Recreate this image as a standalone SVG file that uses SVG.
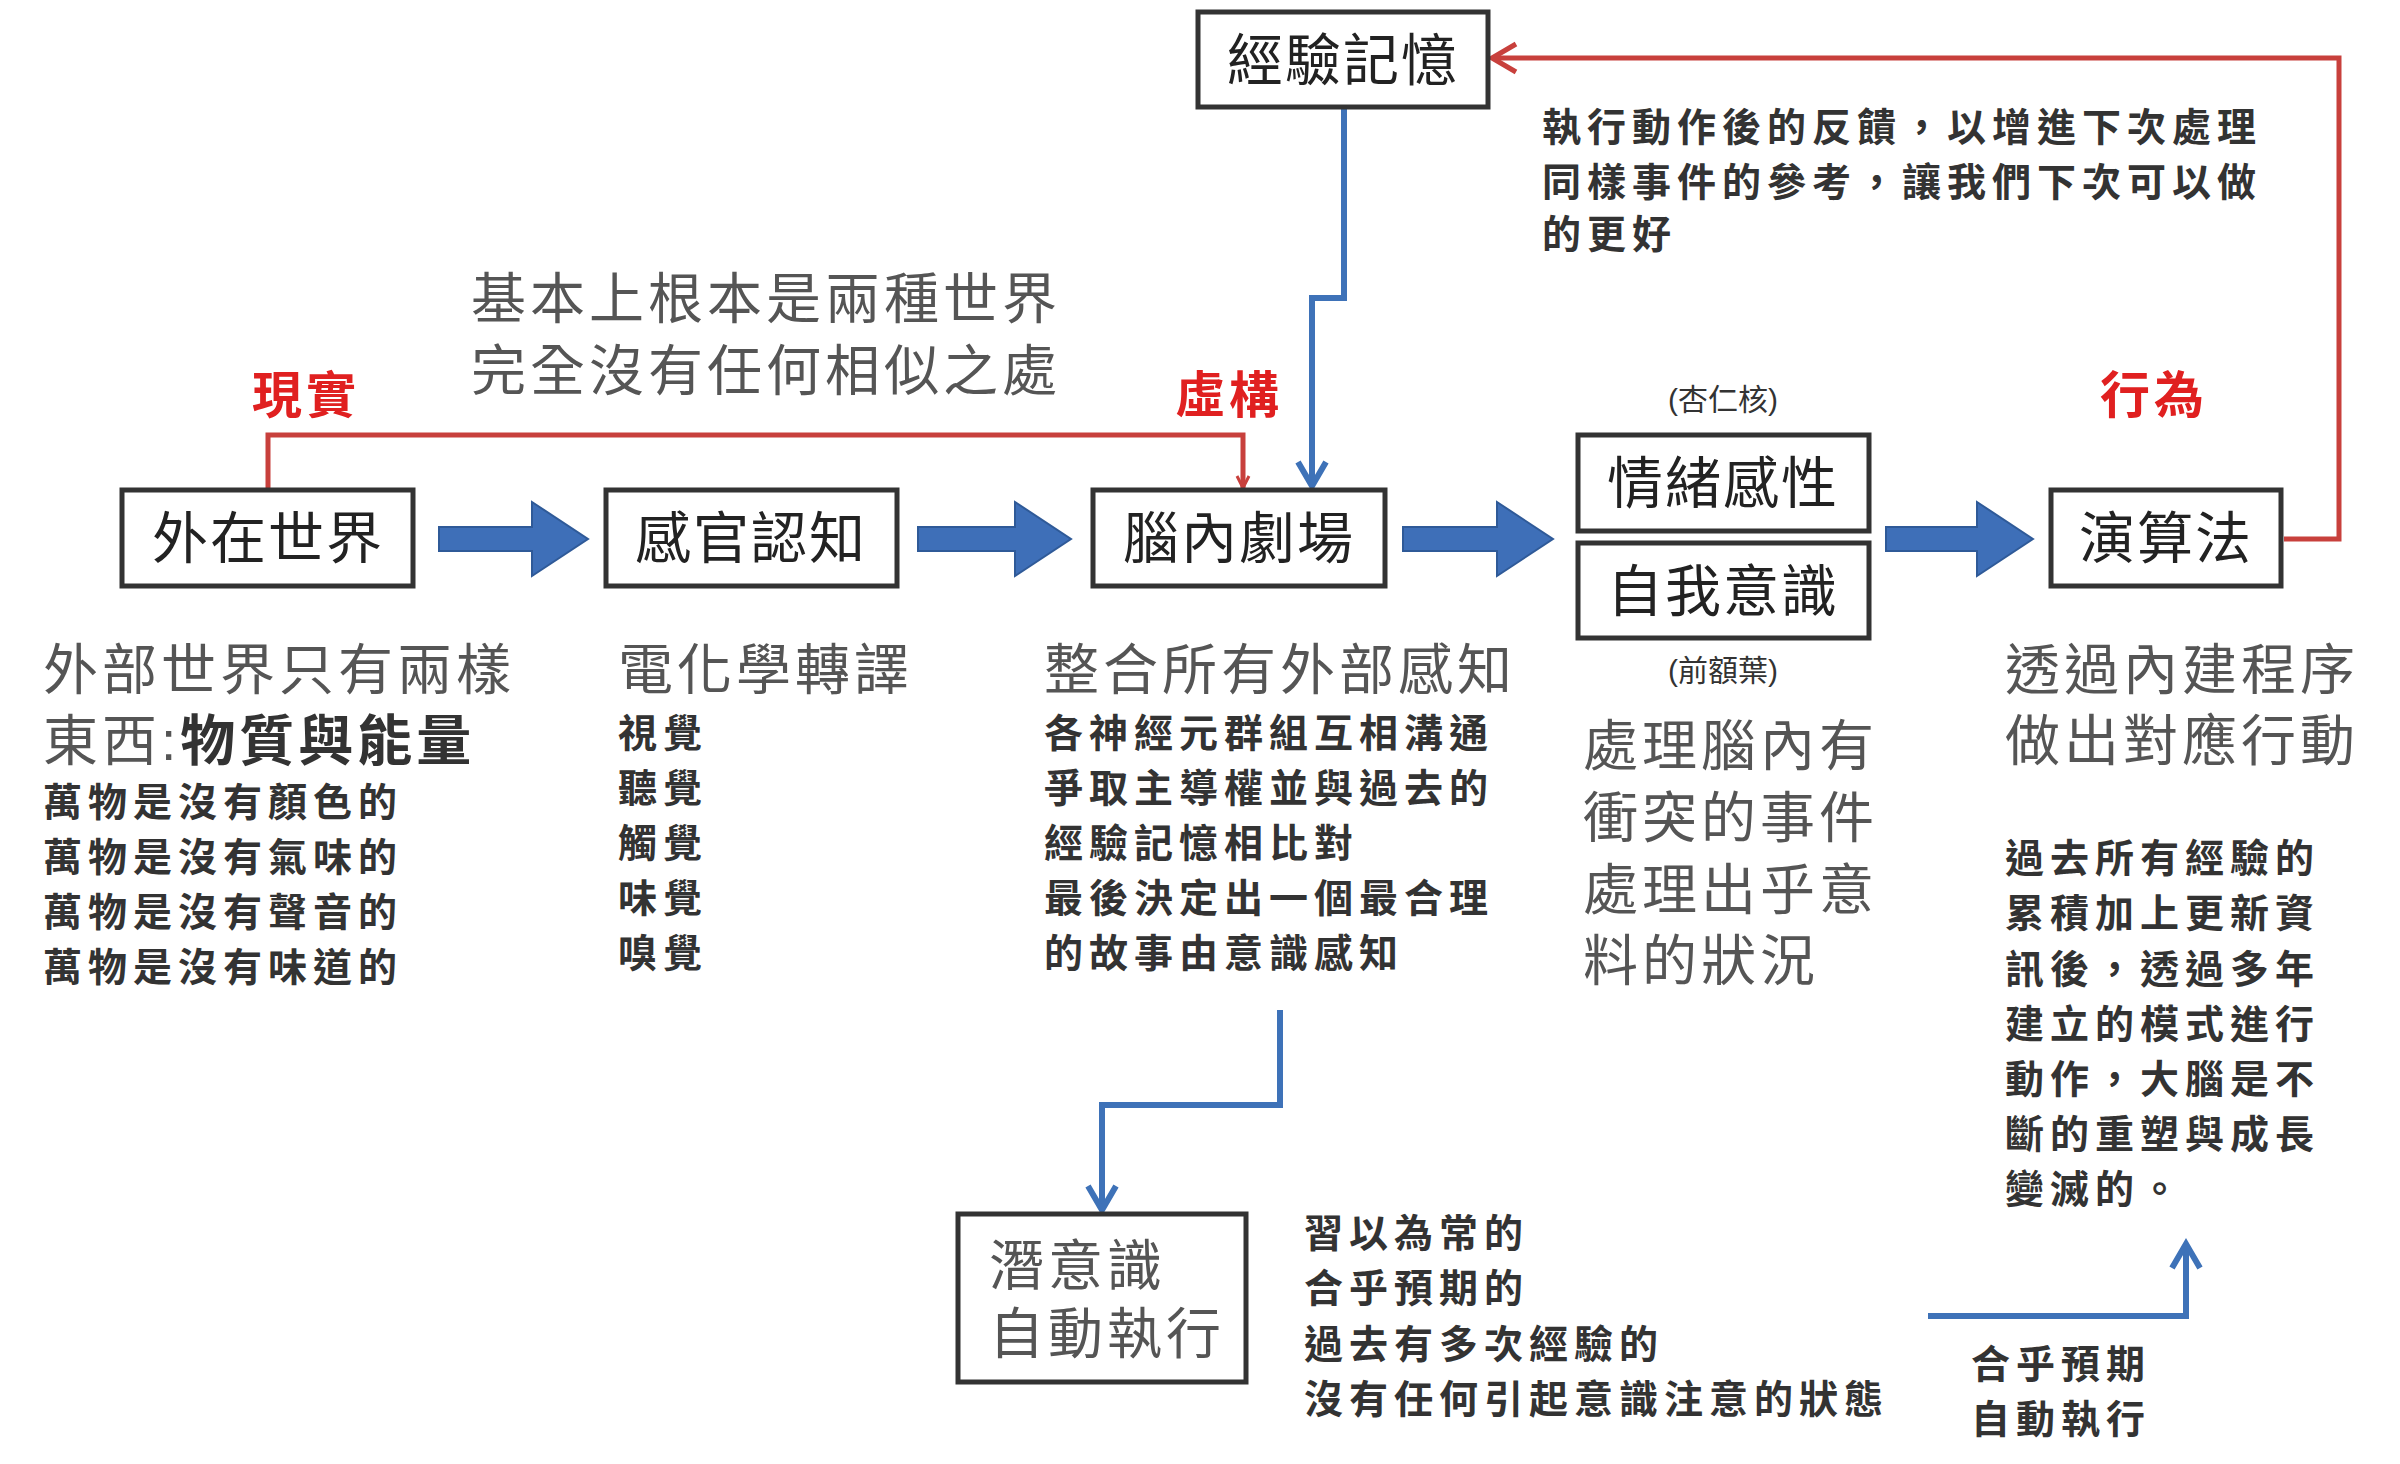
<svg xmlns="http://www.w3.org/2000/svg" width="2400" height="1464" viewBox="0 0 2400 1464">
<style>
text{font-family:"Liberation Sans","Noto Sans CJK TC",sans-serif;fill:#222}
.n{font-size:56px;text-anchor:middle;letter-spacing:2px}
.b{fill:#fff;stroke:#333;stroke-width:5}
.big{font-size:55px;fill:#555;letter-spacing:4px}
.s{font-size:39px;font-weight:bold;fill:#333;letter-spacing:6px}
.r{font-size:50px;font-weight:bold;fill:#e02020;letter-spacing:4px}
.p{font-size:30px;text-anchor:middle;fill:#333}
.blk{fill:#3e6fb8;stroke:#2f5a98;stroke-width:2}
.bl{fill:none;stroke:#3e72b8;stroke-width:6}
.rd{fill:none;stroke:#c8403c;stroke-width:5}
</style>
<defs>
<marker id="abb" markerWidth="36" markerHeight="36" refX="30" refY="18" orient="auto" markerUnits="userSpaceOnUse"><path d="M6,4 L30,18 L6,32" fill="none" stroke="#3e72b8" stroke-width="6"/></marker>
<marker id="ar" markerWidth="36" markerHeight="36" refX="30" refY="18" orient="auto" markerUnits="userSpaceOnUse"><path d="M6,4 L30,18 L6,32" fill="none" stroke="#c8403c" stroke-width="5"/></marker>
<marker id="ars" markerWidth="16" markerHeight="16" refX="14" refY="8" orient="auto" markerUnits="userSpaceOnUse"><path d="M2,2 L14,8 L2,14" fill="none" stroke="#c8403c" stroke-width="3"/></marker>
</defs>
<rect width="2400" height="1464" fill="#fff"/>
<g id="connectors">
<path class="blk" d="M439,527 H532 V502 L588,539 L532,576 V551 H439 Z"/>
<path class="blk" d="M918,527 H1015 V502 L1071,539 L1015,576 V551 H918 Z"/>
<path class="blk" d="M1403,527 H1497 V502 L1553,539 L1497,576 V551 H1403 Z"/>
<path class="blk" d="M1886,527 H1977 V502 L2033,539 L1977,576 V551 H1886 Z"/>
<path class="rd" d="M268,488 V435 H1243 V488" stroke-width="4" marker-end="url(#ars)" marker-start="url(#ars)"/>
<path class="rd" d="M2284,539 H2339 V58 H1492" stroke-width="6" marker-end="url(#ar)"/>
<path class="bl" d="M1344,108 V298 H1312 V486" marker-end="url(#abb)"/>
<path class="bl" d="M1280,1010 V1105 H1102 V1210" marker-end="url(#abb)"/>
<path class="bl" d="M1928,1316 H2186 V1244" marker-end="url(#abb)"/>
</g>
<g id="n1"><rect class="b" x="1198" y="12" width="290" height="95"/><text class="n" x="1343" y="80" fill="#444">經驗記憶</text></g>
<g id="n2"><rect class="b" x="122" y="490" width="291" height="96"/><text class="n" x="268" y="558">外在世界</text></g>
<g id="n3"><rect class="b" x="606" y="490" width="291" height="96"/><text class="n" x="751" y="558">感官認知</text></g>
<g id="n4"><rect class="b" x="1093" y="490" width="292" height="96"/><text class="n" x="1239" y="558">腦內劇場</text></g>
<g id="n5"><rect class="b" x="1578" y="435" width="291" height="96"/><text class="n" x="1723" y="503">情緒感性</text></g>
<g id="n6"><rect class="b" x="1578" y="543" width="291" height="95"/><text class="n" x="1723" y="611">自我意識</text></g>
<g id="n7"><rect class="b" x="2051" y="490" width="230" height="96"/><text class="n" x="2166" y="558">演算法</text></g>
<g id="n8"><rect class="b" x="958" y="1214" width="288" height="168"/><text class="big" x="989" y="1285">潛意識</text><text class="big" x="989" y="1353">自動執行</text></g>
<g id="labels">
<text class="big" x="471" y="318">基本上根本是兩種世界</text>
<text class="big" x="471" y="390">完全沒有任何相似之處</text>
<text class="r" x="252" y="413">現實</text>
<text class="r" x="1175" y="413">虛構</text>
<text class="r" x="2100" y="413">行為</text>
<text class="s" x="1542" y="141">執行動作後的反饋，以增進下次處理</text>
<text class="s" x="1542" y="196">同樣事件的參考，讓我們下次可以做</text>
<text class="s" x="1542" y="248">的更好</text>
<text class="p" x="1723" y="410">(杏仁核)</text>
<text class="p" x="1723" y="681">(前額葉)</text>
<text class="big" x="43" y="689">外部世界只有兩樣</text>
<text class="big" x="43" y="760">東西:<tspan font-weight="bold" fill="#333">物質與能量</tspan></text>
<text class="s" x="43" y="816">萬物是沒有顏色的</text>
<text class="s" x="43" y="871">萬物是沒有氣味的</text>
<text class="s" x="43" y="926">萬物是沒有聲音的</text>
<text class="s" x="43" y="981">萬物是沒有味道的</text>
<text class="big" x="618" y="689">電化學轉譯</text>
<text class="s" x="618" y="747">視覺</text>
<text class="s" x="618" y="802">聽覺</text>
<text class="s" x="618" y="857">觸覺</text>
<text class="s" x="618" y="912">味覺</text>
<text class="s" x="618" y="967">嗅覺</text>
<text class="big" x="1044" y="689">整合所有外部感知</text>
<text class="s" x="1044" y="747">各神經元群組互相溝通</text>
<text class="s" x="1044" y="802">爭取主導權並與過去的</text>
<text class="s" x="1044" y="857">經驗記憶相比對</text>
<text class="s" x="1044" y="912">最後決定出一個最合理</text>
<text class="s" x="1044" y="967">的故事由意識感知</text>
<text class="big" x="1583" y="765">處理腦內有</text>
<text class="big" x="1583" y="837">衝突的事件</text>
<text class="big" x="1583" y="909">處理出乎意</text>
<text class="big" x="1583" y="980">料的狀況</text>
<text class="big" x="2005" y="689">透過內建程序</text>
<text class="big" x="2005" y="760">做出對應行動</text>
<text class="s" x="2005" y="872">過去所有經驗的</text>
<text class="s" x="2005" y="927">累積加上更新資</text>
<text class="s" x="2005" y="983">訊後，透過多年</text>
<text class="s" x="2005" y="1038">建立的模式進行</text>
<text class="s" x="2005" y="1093">動作，大腦是不</text>
<text class="s" x="2005" y="1148">斷的重塑與成長</text>
<text class="s" x="2005" y="1203">變滅的。</text>
<text class="s" x="1304" y="1247">習以為常的</text>
<text class="s" x="1304" y="1302">合乎預期的</text>
<text class="s" x="1304" y="1358">過去有多次經驗的</text>
<text class="s" x="1304" y="1413">沒有任何引起意識注意的狀態</text>
<text class="s" x="1971" y="1378">合乎預期</text>
<text class="s" x="1971" y="1433">自動執行</text>
</g>
</svg>
